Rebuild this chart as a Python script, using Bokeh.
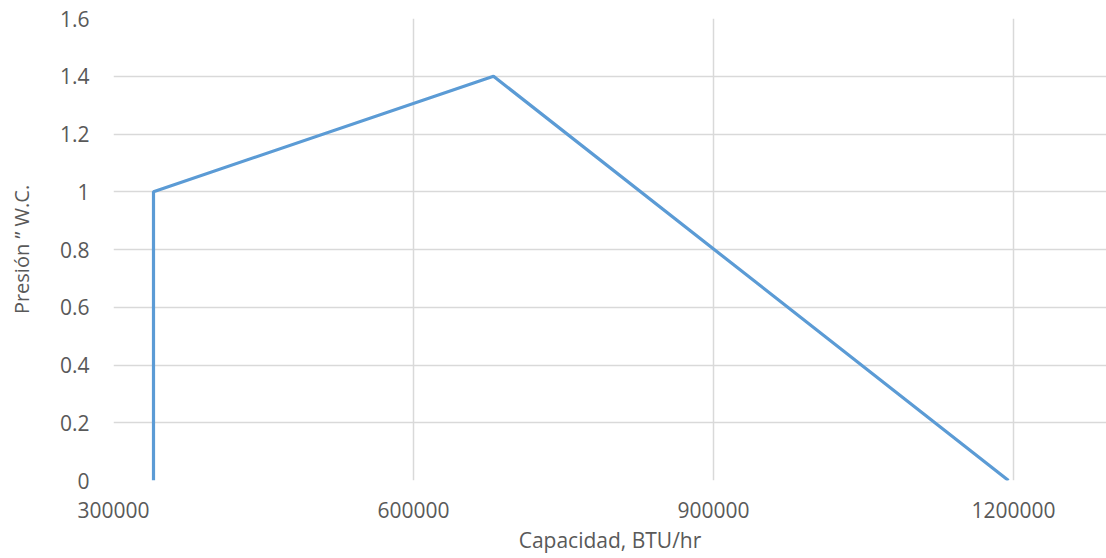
from bokeh.plotting import figure
from bokeh.models import Range1d, FixedTicker
from bokeh.embed import file_html
from bokeh.resources import INLINE

capacidad = [340000, 340000, 680000, 1195000]
presion = [0, 1.0, 1.4, 0]
x_ticks = [300000, 600000, 900000, 1200000]
y_ticks = [0, 0.2, 0.4, 0.6, 0.8, 1.0, 1.2, 1.4, 1.6]

p = figure(width=1106, height=558, output_backend="svg", toolbar_location=None,
           x_range=Range1d(300000, 1293000), y_range=Range1d(0, 1.6),
           min_border_left=113, min_border_right=0, min_border_top=18, min_border_bottom=78)
p.outline_line_color = None
p.background_fill_color = "white"
p.border_fill_color = "white"

p.line(capacidad, presion, line_color="#5B9BD5", line_width=3.2)

font = "Open Sans"
for ax in (p.xaxis, p.yaxis):
    ax.axis_line_color = None
    ax.major_tick_line_color = None
    ax.minor_tick_line_color = None
    ax.major_label_text_font = font
    ax.major_label_text_font_size = "21px"
    ax.major_label_text_color = "#595959"
    ax.axis_label_text_font = font
    ax.axis_label_text_font_size = "20px"
    ax.axis_label_text_color = "#595959"
    ax.axis_label_text_font_style = "normal"

p.xaxis.axis_label_text_font_size = "21px"
p.xaxis.ticker = FixedTicker(ticks=x_ticks)
p.yaxis.ticker = FixedTicker(ticks=y_ticks)
p.xaxis.major_label_overrides = {t: str(t) for t in x_ticks}
p.yaxis.major_label_overrides = {t: ("0" if t == 0 else ("1" if t == 1.0 else f"{t:g}")) for t in y_ticks}
p.xaxis.major_label_standoff = 15
p.yaxis.major_label_standoff = 18
p.xaxis.axis_label = "Capacidad, BTU/hr"
p.yaxis.axis_label = "Presión \u201d W.C."
p.xaxis.axis_label_standoff = 5
p.yaxis.axis_label_standoff = 22

p.xgrid.ticker = FixedTicker(ticks=x_ticks)
p.ygrid.ticker = FixedTicker(ticks=y_ticks)
for g in (p.xgrid, p.ygrid):
    g.grid_line_color = "#D9D9D9"
    g.grid_line_width = 1.5

open("out.html", "w").write(file_html(p, INLINE))
